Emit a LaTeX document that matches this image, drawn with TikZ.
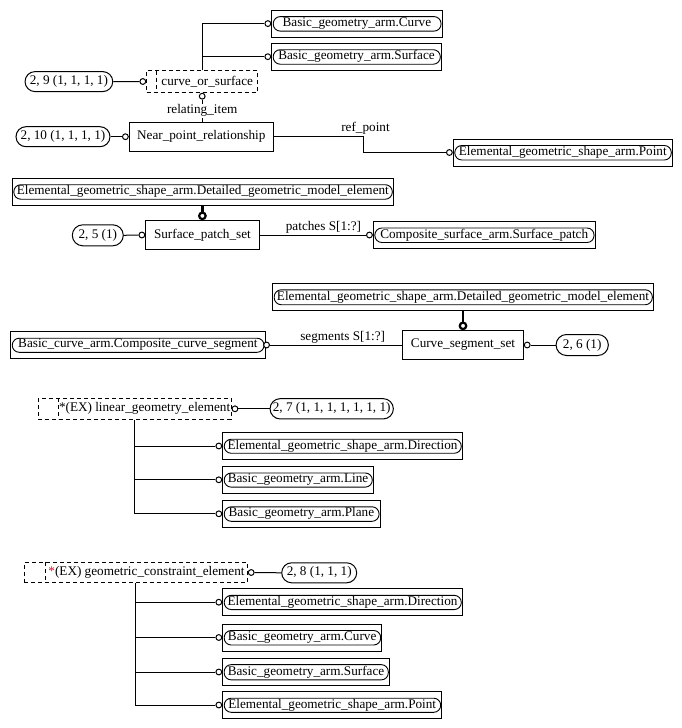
\documentclass[tikz,border=0pt]{standalone}
\usepackage{fontspec}
\setmainfont{Liberation Serif}
\usetikzlibrary{shapes.misc,positioning}
\begin{document}
\begin{tikzpicture}[x=1pt,y=-1pt,
  every node/.style={font=\fontsize{13.2}{15}\selectfont},
  line width=1pt,
  ent/.style={draw, rectangle, inner sep=0pt},
  refent/.style={draw, rectangle, inner sep=0pt,
    path picture={\draw[line width=0.9pt, rounded corners=7pt]
      ([xshift=1.5pt,yshift=-6.5pt]path picture bounding box.north west) rectangle
      ([xshift=-1pt,yshift=6pt]path picture bounding box.south east);}},
  pill/.style={draw, rounded rectangle, inner sep=0pt},
  sel/.style={draw, rectangle, inner sep=0pt, dash pattern=on 4pt off 3pt,
    path picture={\draw[dash pattern=on 4pt off 3pt]
      ([xshift=#1]path picture bounding box.north west) --
      ([xshift=#1]path picture bounding box.south west);}},
  circ/.style={draw, circle, inner sep=0pt, minimum size=5.8pt, fill=white},
  tcirc/.style={draw, circle, inner sep=0pt, minimum size=6.5pt, fill=white, line width=2.2pt},
  thk/.style={line width=2.5pt}]
\useasboundingbox (0,0) rectangle (682,728);

% ---------- section 1
\node[refent, minimum width=170.3pt, minimum height=27pt] (A1) at (356.9,23.6) {Basic\_geometry\_arm.Curve};
\node[refent, minimum width=169.6pt, minimum height=27pt] (A2) at (356.5,56.7) {Basic\_geometry\_arm.Surface};
\node[sel=10pt, minimum width=111pt, minimum height=21.6pt] (B) at (202.2,81.5) {};
\node (Bt) at (207.2,81.5) {curve\_or\_surface};
\node[pill, minimum width=87.7pt, minimum height=20pt] (C) at (68.9,81.6) {2, 9 (1, 1, 1, 1)};
\node[ent, minimum width=144pt, minimum height=28.7pt] (D) at (201.3,136.7) {Near\_point\_relationship};
\node[pill, minimum width=94pt, minimum height=20pt] (E) at (63,136.7) {2, 10 (1, 1, 1, 1)};
\node[refent, minimum width=219pt, minimum height=27pt] (F) at (562.8,152.5) {Elemental\_geometric\_shape\_arm.Point};

\node[circ, left=0pt of A1] (cA1) {};
\node[circ, left=0pt of A2] (cA2) {};
\node[circ, left=0pt of B] (cB) {};
\node[circ, below=0pt of B] (cBb) {};
\node[circ, left=0pt of D] (cD) {};
\node[circ, left=0pt of F] (cF) {};

\draw (B.north) |- (cA1.west);
\draw (B.north) |- (cA2.west);
\draw (C.east) -- (cB.west);
\draw (cBb.south) -- node[fill=white, inner sep=1pt, pos=0.5] (ri) {relating\_item} (cBb.south |- D.north);
\draw (E.east) -- (cD.west);
\coordinate (rp) at (363.3,136.7);
\draw (D.east) -| (rp |- cF.west) -- (cF.west);
\node (rpl) at (365.5,128) {ref\_point};

% ---------- section 2
\node[refent, minimum width=381pt, minimum height=27pt] (G) at (202.8,191.7) {Elemental\_geometric\_shape\_arm.Detailed\_geometric\_model\_element};
\node[ent, minimum width=113.3pt, minimum height=28.6pt] (H) at (202.4,235) {Surface\_patch\_set};
\node[pill, minimum width=51pt, minimum height=21pt] (I) at (97.8,235.3) {2, 5 (1)};
\node[refent, minimum width=221.7pt, minimum height=27pt] (J) at (484.2,235) {Composite\_surface\_arm.Surface\_patch};
\node[tcirc, above=0pt of H] (cH) {};
\node[circ, left=0pt of H] (cHl) {};
\node[circ, left=0pt of J] (cJ) {};
\draw[thk] (cH.north) -- (cH.north |- G.south);
\draw (I.east) -- (cHl.west);
\draw (H.east) -- node[above, pos=0.6, inner sep=1.5pt] (pl) {patches S[1:?]} (cJ.west);

% ---------- section 3
\node[refent, minimum width=380.6pt, minimum height=27.4pt] (K) at (463,297) {Elemental\_geometric\_shape\_arm.Detailed\_geometric\_model\_element};
\node[ent, minimum width=120.6pt, minimum height=28.6pt] (L) at (463,345) {Curve\_segment\_set};
\node[pill, minimum width=52.3pt, minimum height=21pt] (P26) at (582.2,345) {2, 6 (1)};
\node[refent, minimum width=254.3pt, minimum height=26.6pt] (M) at (137.9,345) {Basic\_curve\_arm.Composite\_curve\_segment};
\node[tcirc, above=0pt of L] (cL) {};
\node[circ, right=0pt of L] (cLr) {};
\node[circ] (cM) at ([xshift=1pt]M.east) {};
\draw[thk] (cL.north) -- (cL.north |- K.south);
\draw (cLr.east) -- (P26.west);
\draw (cM.east) -- node[above, pos=0.55, inner sep=1.5pt] (sl) {segments S[1:?]} (L.west);

% ---------- section 4
\node[sel=20pt, minimum width=192.7pt, minimum height=21pt] (N) at (134.7,408.8) {};
\node (Nt) at (144.6,408.8) {*(EX) linear\_geometry\_element};
\node[circ, right=0pt of N] (cN) {};
\node[pill, minimum width=123.3pt, minimum height=20.3pt] (P27) at (331.7,408.8) {2, 7 (1, 1, 1, 1, 1, 1, 1)};
\draw (cN.east) -- (P27.west);
\node[refent, minimum width=239.6pt, minimum height=26.5pt] (O1) at (342.5,446) {Elemental\_geometric\_shape\_arm.Direction};
\node[refent, minimum width=150.6pt, minimum height=26.6pt] (O2) at (298,479.8) {Basic\_geometry\_arm.Line};
\node[refent, minimum width=157.3pt, minimum height=27pt] (O3) at (301.4,513.8) {Basic\_geometry\_arm.Plane};
\node[circ, left=0pt of O1] (cO1) {};
\node[circ, left=0pt of O2] (cO2) {};
\node[circ, left=0pt of O3] (cO3) {};
\draw (N.south) |- (cO1.west);
\draw (N.south) |- (cO2.west);
\draw (N.south) |- (cO3.west);

% ---------- section 5
\node[sel=21.4pt, minimum width=223pt, minimum height=20.4pt] (Pp) at (135.8,572.5) {};
\node (Pt) at (146.5,572.5) {\textcolor{red}{*}(EX) geometric\_constraint\_element};
\node[circ, right=0pt of Pp] (cP) {};
\node[pill, minimum width=75pt, minimum height=20pt] (P28) at (319.2,572.8) {2, 8 (1, 1, 1)};
\draw (cP.east) -- (P28.west);
\node[refent, minimum width=239.6pt, minimum height=26.7pt] (Q1) at (342.5,602.2) {Elemental\_geometric\_shape\_arm.Direction};
\node[refent, minimum width=159pt, minimum height=27pt] (Q2) at (302.2,637.5) {Basic\_geometry\_arm.Curve};
\node[refent, minimum width=166.6pt, minimum height=27.7pt] (Q3) at (306,672) {Basic\_geometry\_arm.Surface};
\node[refent, minimum width=219pt, minimum height=26.6pt] (Q4) at (332.2,705) {Elemental\_geometric\_shape\_arm.Point};
\node[circ, left=0pt of Q1] (cQ1) {};
\node[circ, left=0pt of Q2] (cQ2) {};
\node[circ, left=0pt of Q3] (cQ3) {};
\node[circ, left=0pt of Q4] (cQ4) {};
\draw (Pp.south) |- (cQ1.west);
\draw (Pp.south) |- (cQ2.west);
\draw (Pp.south) |- (cQ3.west);
\draw (Pp.south) |- (cQ4.west);
\end{tikzpicture}
\end{document}
